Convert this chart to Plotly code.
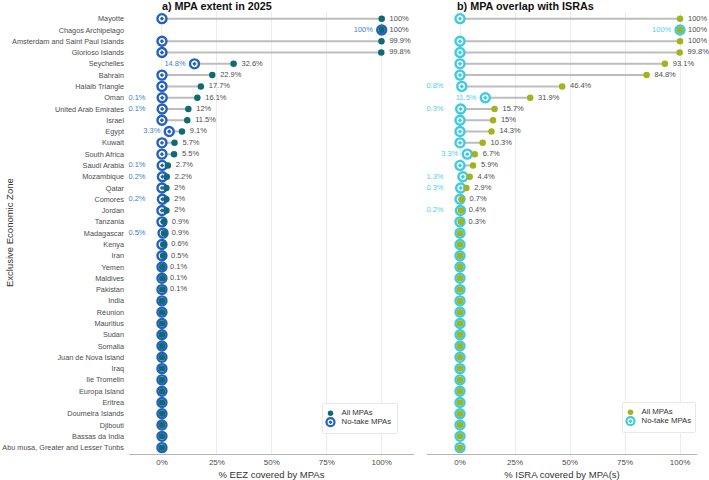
import plotly.graph_objects as go
from plotly.subplots import make_subplots

countries = ["Mayotte", "Chagos Archipelago", "Amsterdam and Saint Paul Islands", "Glorioso Islands",
             "Seychelles", "Bahrain", "Halaib Triangle", "Oman", "United Arab Emirates", "Israel",
             "Egypt", "Kuwait", "South Africa", "Saudi Arabia", "Mozambique", "Qatar", "Comores",
             "Jordan", "Tanzania", "Madagascar", "Kenya", "Iran", "Yemen", "Maldives", "Pakistan",
             "India", "Réunion", "Mauritius", "Sudan", "Somalia", "Juan de Nova Island", "Iraq",
             "Ile Tromelin", "Europa Island", "Eritrea", "Doumeira Islands", "Djibouti",
             "Bassas da India", "Abu musa, Greater and Lesser Tunbs"]

eez_all = [100, 100, 99.9, 99.8, 32.6, 22.9, 17.7, 16.1, 12, 11.5, 9.1, 5.7, 5.5, 2.7, 2.2, 2, 2, 2,
           0.9, 0.9, 0.6, 0.5, 0.1, 0.1, 0.1] + [0] * 14
eez_notake = [0, 100, 0, 0, 14.8, 0, 0, 0.1, 0.1, 0, 3.3, 0, 0, 0.1, 0.2, 0, 0.2, 0,
              0, 0.5, 0, 0, 0, 0, 0] + [0] * 14

isra_all = [100, 100, 100, 99.8, 93.1, 84.8, 46.4, 31.9, 15.7, 15, 14.3, 10.3, 6.7, 5.9, 4.4, 2.9,
            0.7, 0.4, 0.3] + [0] * 20
isra_notake = [0, 100, 0, 0, 0, 0, 0.8, 11.5, 0.3, 0, 0, 0, 3.3, 0, 1.3, 0.3, 0, 0.2, 0] + [0] * 20

legend_labels = ["All MPAs", "No-take MPAs"]

W, H = 709, 480
TEAL = "#0f6b73"
BLUE = "#2360c0"
BLUE_TXT = "#3f7fc8"
GREEN = "#a2b31c"
CYAN = "#3ccbe0"
CYAN_TXT = "#4fd3e3"
GREY_TXT = "#4d4d4d"
SEG = "#bdbdbd"
FONT = "Liberation Sans, Arial, sans-serif"

fig = make_subplots(rows=1, cols=2, shared_yaxes=False, horizontal_spacing=0.02)


def fmt(v):
    s = ("%.1f" % v).rstrip("0").rstrip(".")
    return s + "%"


def add_panel(col, all_v, nt_v, c_all, c_nt, c_nt_txt):
    segx, segy = [], []
    for c, a, n in zip(countries, all_v, nt_v):
        segx += [n, a, None]
        segy += [c, c, None]
    fig.add_trace(go.Scatter(x=segx, y=segy, mode="lines", line=dict(color=SEG, width=2),
                             showlegend=False, hoverinfo="skip", cliponaxis=False), row=1, col=col)
    fig.add_trace(go.Scatter(x=nt_v, y=countries, mode="markers", name="No-take MPAs",
                             marker=dict(symbol="circle-dot", size=9, color="white",
                                         line=dict(color=c_nt, width=2.4)),
                             cliponaxis=False, showlegend=False), row=1, col=col)
    fig.add_trace(go.Scatter(x=all_v, y=countries, mode="markers", name="All MPAs",
                             marker=dict(symbol="circle", size=6.5, color=c_all),
                             cliponaxis=False, showlegend=False), row=1, col=col)
    lx = [a + 3.6 for a in all_v if a > 0]
    ly = [c for c, a in zip(countries, all_v) if a > 0]
    lt = [fmt(a) for a in all_v if a > 0]
    fig.add_trace(go.Scatter(x=lx, y=ly, mode="text", text=lt, textposition="middle right",
                             textfont=dict(size=7.5, color=GREY_TXT, family=FONT), cliponaxis=False,
                             showlegend=False, hoverinfo="skip"), row=1, col=col)
    nx = [(n - 4 if n >= 3 else -7.5) for n in nt_v if n > 0]
    ny = [c for c, n in zip(countries, nt_v) if n > 0]
    nt = [fmt(n) for n in nt_v if n > 0]
    fig.add_trace(go.Scatter(x=nx, y=ny, mode="text", text=nt, textposition="middle left",
                             textfont=dict(size=7.5, color=c_nt_txt, family=FONT), cliponaxis=False,
                             showlegend=False, hoverinfo="skip"), row=1, col=col)


add_panel(1, eez_all, eez_notake, TEAL, BLUE, BLUE_TXT)
add_panel(2, isra_all, isra_notake, GREEN, CYAN, CYAN_TXT)

# manual compact legends (box in pixel units on hidden axes)
legend_boxes = [(323, 397, 404, 433, TEAL, BLUE, "x3", "y3"),
                (623, 695, 403, 432, GREEN, CYAN, "x4", "y4")]
shapes = []
for (l, r, t, b, c_all, c_nt, xa, ya) in legend_boxes:
    ky = [t + 9.2, t + 18.2]
    kx = l + 7.5
    fig.add_trace(go.Scatter(x=[kx], y=[ky[0]], mode="markers", xaxis=xa, yaxis=ya,
                             marker=dict(symbol="circle", size=5.5, color=c_all),
                             showlegend=False, hoverinfo="skip", cliponaxis=False))
    fig.add_trace(go.Scatter(x=[kx], y=[ky[1]], mode="markers", xaxis=xa, yaxis=ya,
                             marker=dict(symbol="circle-dot", size=8, color="white",
                                         line=dict(color=c_nt, width=2.2)),
                             showlegend=False, hoverinfo="skip", cliponaxis=False))
    fig.add_trace(go.Scatter(x=[kx + 11, kx + 11], y=ky, mode="text", xaxis=xa, yaxis=ya,
                             text=legend_labels, textposition="middle right",
                             textfont=dict(size=7.8, color="#333", family=FONT),
                             showlegend=False, hoverinfo="skip", cliponaxis=False))
    shapes.append(dict(type="rect", xref="paper", yref="paper", x0=l / W, x1=r / W,
                       y0=1 - b / H, y1=1 - t / H, line=dict(color="#d0d0d0", width=1),
                       fillcolor="rgba(255,255,255,0)", layer="below"))

y_top = 1 - 11.9 / H
y_bot = 1 - 454.4 / H
n = len(countries)

xaxis_common = dict(tickvals=[0, 25, 50, 75, 100], ticktext=["0%", "25%", "50%", "75%", "100%"],
                    showgrid=True, gridcolor="#ececec", gridwidth=1, zeroline=False,
                    showline=True, linecolor="#b5b5b5", linewidth=1, ticks="", automargin=False,
                    tickfont=dict(size=8, color=GREY_TXT, family=FONT))
hidden = dict(visible=False, showgrid=False, zeroline=False, automargin=False, fixedrange=True)

fig.update_layout(
    width=W, height=H, margin=dict(l=0, r=0, t=0, b=0, autoexpand=False),
    plot_bgcolor="white", paper_bgcolor="white", showlegend=False,
    font=dict(family=FONT, color=GREY_TXT),
    xaxis=dict(domain=[129 / W, 414 / W], range=[-15, 114.7],
               title=dict(text="% EEZ covered by MPAs", font=dict(size=9.5, color="#333"), standoff=5),
               **xaxis_common),
    xaxis2=dict(domain=[427 / W, 697 / W], range=[-15, 107.7],
                title=dict(text="% ISRA covered by MPA(s)", font=dict(size=9.5, color="#333"), standoff=5),
                **xaxis_common),
    yaxis=dict(domain=[y_bot, y_top], type="category", categoryarray=countries, automargin=False,
               range=[n - 1 + 0.6, -0.6], showgrid=False, zeroline=False, ticks="",
               tickfont=dict(size=7.3, color=GREY_TXT, family=FONT), ticklabelstandoff=4),
    yaxis2=dict(domain=[y_bot, y_top], type="category", categoryarray=countries, automargin=False,
                range=[n - 1 + 0.6, -0.6], showgrid=False, zeroline=False, showticklabels=False,
                ticks=""),
    xaxis3=dict(domain=[323 / W, 397 / W], range=[323, 397], anchor="y3", **hidden),
    yaxis3=dict(domain=[1 - 433 / H, 1 - 404 / H], range=[433, 404], anchor="x3", **hidden),
    xaxis4=dict(domain=[623 / W, 695 / W], range=[623, 695], anchor="y4", **hidden),
    yaxis4=dict(domain=[1 - 432 / H, 1 - 403 / H], range=[432, 403], anchor="x4", **hidden),
    shapes=shapes,
    annotations=[
        dict(text="<b>a) MPA extent in 2025</b>", x=160 / W, y=1 - 6 / H, xref="paper", yref="paper",
             xanchor="left", yanchor="middle", showarrow=False, font=dict(size=10.8, color="#111", family=FONT)),
        dict(text="<b>b) MPA overlap with ISRAs</b>", x=455 / W, y=1 - 6 / H, xref="paper", yref="paper",
             xanchor="left", yanchor="middle", showarrow=False, font=dict(size=10.8, color="#111", family=FONT)),
        dict(text="Exclusive Economic Zone", x=10 / W, y=1 - 233 / H, xref="paper", yref="paper",
             xanchor="center", yanchor="middle", showarrow=False, textangle=-90,
             font=dict(size=9.5, color="#333", family=FONT)),
    ],
)

fig.write_html("out.html")
